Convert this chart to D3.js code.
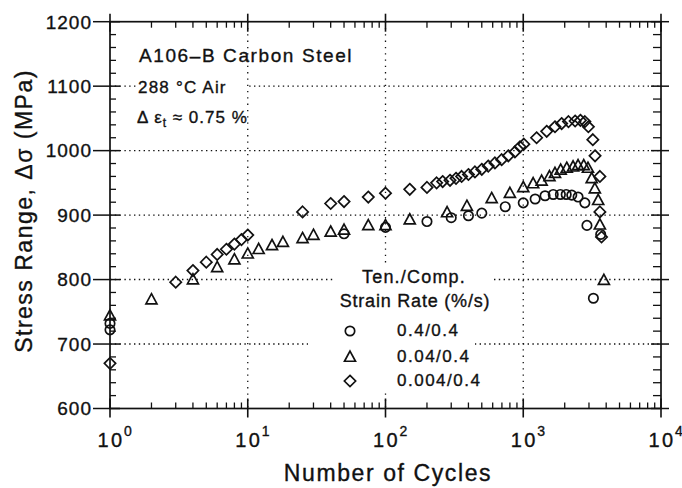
<!DOCTYPE html>
<html><head><meta charset="utf-8">
<script src="https://cdn.jsdelivr.net/npm/d3@7"></script>
<style>
html,body{margin:0;padding:0;background:#fff;}
svg{display:block;}
text{font-family:"Liberation Sans",Arial,Helvetica,sans-serif;fill:#111;stroke:#111;stroke-width:0.35px;}
</style></head><body>
<svg id="chart" width="682" height="488"></svg>
<script>
// Stress range vs. cycles for A106-B steel at three tension strain rates
const cyclesA = [1,1,50,100,200,300,400,500,740,1000,1220,1440,1650,1860,2050,2250,2500,2800,2900,3230,3650];
const stressA = [722,732,871,881,890,896,899,903,913,919,925,930,932,932,932,931,928,919,884,771,870];

const cyclesB = [1,2,4,6,8,10,12,15,18,25,30,40,50,75,100,150,280,390,590,800,1000,1180,1360,1550,1700,1870,2070,2300,2500,2750,2950,3140,3310,3500,3600,3850];
const stressB = [744,769,800,819,831,840,847,853,858,864,869,874,877,884,884,893,904,914,926,934,943,949,953,960,965,970,973,975,977,977,973,957,941,923,885,799];

const cyclesC = [1,3,4,5,6,7,8,9,10,25,40,50,75,100,150,200,235,260,294,325,357,400,446,500,557,623,697,779,870,947,1010,1250,1480,1700,1900,2130,2380,2600,2800,2970,3200,3320,3600,3600,3700];
const stressC = [670,796,814,827,839,847,855,862,869,905,918,921,928,934,940,943,950,952,954,957,960,963,967,971,976,981,986,992,998,1006,1010,1020,1030,1037,1042,1045,1046,1047,1045,1037,1017,992,960,905,866];

const seriesNames = ["0.4/0.4","0.04/0.4","0.004/0.4"];
const yTickValues = [600,700,800,900,1000,1100,1200];
const yGridValues = [700,800,900,1000,1100];
const xDecades = [1,10,100,1000,10000];
const xDecadeExponents = ["0","1","2","3","4"];
const xGridValues = [10,100,1000];

const ink = "#111";
const svg = d3.select("#chart");
const x = d3.scaleLog().domain([1,1e4]).range([110,661]);
const y = d3.scaleLinear().domain([600,1200]).range([408.5,21.7]);
const [x0,x1] = x.range();
const [y0,y1] = y.range();

// Symbol shapes: open circle, triangle, square-ish diamond (size = nominal radius)
const circleSym = {draw(ctx,s){ctx.moveTo(s,0);ctx.arc(0,0,s,0,2*Math.PI);}};
const triSym = {draw(ctx,s){ctx.moveTo(0,-s*1.25);ctx.lineTo(s*1.17,s*0.9);ctx.lineTo(-s*1.17,s*0.9);ctx.closePath();}};
const diaSym = {draw(ctx,s){const r=s*1.2;ctx.moveTo(0,-r);ctx.lineTo(r,0);ctx.lineTo(0,r);ctx.lineTo(-r,0);ctx.closePath();}};
const symTypes = [circleSym,triSym,diaSym];
const symSize = 4.7;

// Dotted grid
svg.append("g").selectAll("line").data(yGridValues).join("line")
  .attr("x1",x0).attr("x2",x1).attr("y1",d=>y(d)).attr("y2",d=>y(d))
  .attr("stroke",ink).attr("stroke-width",1.4).attr("stroke-dasharray","1.4,3.4");
svg.append("g").selectAll("line").data(xGridValues).join("line")
  .attr("x1",d=>x(d)).attr("x2",d=>x(d)).attr("y1",y1).attr("y2",y0)
  .attr("stroke",ink).attr("stroke-width",1.3).attr("stroke-dasharray","1.3,5");

// White boxes behind the text blocks that sit on the grid
const boxes = [[137,78,110,20],[335,265,156,48],[308,313,167,80]];
svg.append("g").selectAll("rect").data(boxes).join("rect")
  .attr("x",d=>d[0]).attr("y",d=>d[1]).attr("width",d=>d[2]).attr("height",d=>d[3]).attr("fill","#fff");

// Frame
svg.append("rect").attr("x",x0).attr("y",y1).attr("width",x1-x0).attr("height",y0-y1)
  .attr("fill","none").attr("stroke",ink).attr("stroke-width",1.7);

const ticks = svg.append("g").attr("stroke",ink);
// log ticks on bottom and top
const xMinor = x.ticks().filter(v=>!xDecades.includes(v));
ticks.selectAll(".xb").data(xMinor).join("line")
  .attr("x1",d=>x(d)).attr("x2",d=>x(d)).attr("y1",y0).attr("y2",y0-6).attr("stroke-width",1.3);
ticks.selectAll(".xt").data(xMinor).join("line")
  .attr("x1",d=>x(d)).attr("x2",d=>x(d)).attr("y1",y1).attr("y2",y1+6).attr("stroke-width",1.3);
ticks.selectAll(".xbM").data(xDecades).join("line")
  .attr("x1",d=>x(d)).attr("x2",d=>x(d)).attr("y1",y0+9).attr("y2",y0-10).attr("stroke-width",1.6);
ticks.selectAll(".xtM").data(xDecades).join("line")
  .attr("x1",d=>x(d)).attr("x2",d=>x(d)).attr("y1",y1-8).attr("y2",y1+10).attr("stroke-width",1.6);
// linear ticks on left and right
const yMinor = y.ticks(30).filter(v=>!yTickValues.includes(v));
ticks.selectAll(".yl").data(yMinor).join("line")
  .attr("x1",x0).attr("x2",x0+6).attr("y1",d=>y(d)).attr("y2",d=>y(d)).attr("stroke-width",1.3);
ticks.selectAll(".yr").data(yMinor).join("line")
  .attr("x1",x1).attr("x2",x1-8).attr("y1",d=>y(d)).attr("y2",d=>y(d)).attr("stroke-width",1.3);
ticks.selectAll(".ylM").data(yTickValues).join("line")
  .attr("x1",x0-17).attr("x2",x0+10).attr("y1",d=>y(d)).attr("y2",d=>y(d)).attr("stroke-width",1.5);
ticks.selectAll(".yrM").data(yTickValues).join("line")
  .attr("x1",x1-10).attr("x2",x1+8).attr("y1",d=>y(d)).attr("y2",d=>y(d)).attr("stroke-width",1.5);

// Tick labels
svg.append("g").selectAll("text").data(yTickValues).join("text")
  .attr("x",92).attr("y",d=>y(d)).attr("dy","0.36em").attr("text-anchor","end")
  .attr("font-size",19).attr("letter-spacing",1).text(d=>d);
const xl = svg.append("g").selectAll("g").data(xDecades).join("g")
  .attr("transform",d=>`translate(${x(d)},0)`);
xl.append("text").attr("x",1).attr("y",447).attr("text-anchor","middle")
  .attr("font-size",20).attr("letter-spacing",2.5).text("10");
xl.append("text").attr("x",14).attr("y",436)
  .attr("font-size",14).text((d,i)=>xDecadeExponents[i]);

// Axis titles
svg.append("text").attr("x",388).attr("y",481).attr("text-anchor","middle")
  .attr("font-size",23).attr("letter-spacing",1.6).text("Number of Cycles");
svg.append("text").attr("transform","translate(32,211) rotate(-90)").attr("text-anchor","middle")
  .attr("font-size",23).attr("letter-spacing",1.5).text("Stress Range, \u0394\u03c3 (MPa)");

// Data points
const series = [[cyclesA,stressA],[cyclesB,stressB],[cyclesC,stressC]];
series.forEach(([cx,cy],k)=>{
  const sym = d3.symbol().type(symTypes[k]).size(symSize);
  svg.append("g").selectAll("path").data(cx.map((n,i)=>[n,cy[i]])).join("path")
    .attr("transform",d=>`translate(${x(d[0])},${y(d[1])})`)
    .attr("d",sym).attr("fill","none").attr("stroke",ink).attr("stroke-width",1.7);
});

// Material / test condition notes
svg.append("text").attr("x",139).attr("y",62).attr("font-size",19).attr("letter-spacing",1.6)
  .text("A106\u2013B Carbon Steel");
svg.append("text").attr("x",138).attr("y",93).attr("font-size",17).attr("letter-spacing",1.2)
  .text("288 \u00b0C Air");
const eps = svg.append("text").attr("x",137).attr("y",123).attr("font-size",17).attr("letter-spacing",1);
eps.append("tspan").text("\u0394 \u03b5");
eps.append("tspan").attr("font-size",12).attr("dy",4).text("t");
eps.append("tspan").attr("dy",-4).text(" \u2248 0.75 %");

// Legend
svg.append("text").attr("x",414).attr("y",283).attr("text-anchor","middle")
  .attr("font-size",18).attr("letter-spacing",1.2).text("Ten./Comp.");
svg.append("text").attr("x",415).attr("y",307).attr("text-anchor","middle")
  .attr("font-size",18).attr("letter-spacing",0.8).text("Strain Rate (%/s)");
const legendRows = [331,357,381];
seriesNames.forEach((name,k)=>{
  svg.append("path").attr("transform",`translate(350,${legendRows[k]})`)
    .attr("d",d3.symbol().type(symTypes[k]).size(symSize)).attr("fill","none")
    .attr("stroke",ink).attr("stroke-width",1.7);
  svg.append("text").attr("x",397).attr("y",legendRows[k]+5).attr("font-size",17)
    .attr("letter-spacing",1.5).text(name);
});
</script>
</body></html>
